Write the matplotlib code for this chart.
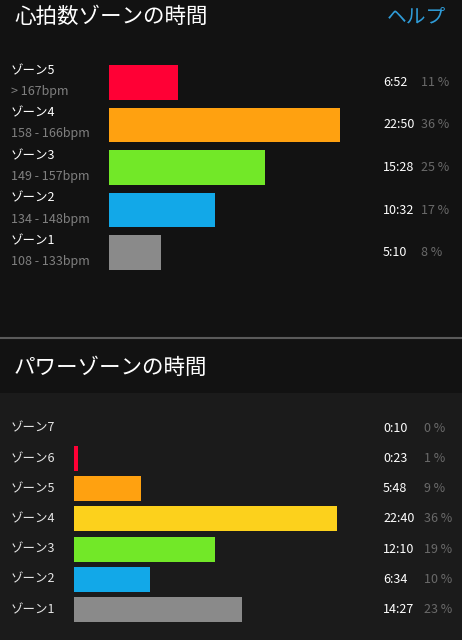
import numpy as np
import matplotlib
matplotlib.use("Agg")
import matplotlib.pyplot as plt

plt.rcParams['font.family'] = ['Noto Sans CJK JP', 'DejaVu Sans']

#------------------data-----------------------------
hr_zones = ['ゾーン1', 'ゾーン2', 'ゾーン3', 'ゾーン4', 'ゾーン5']
hr_ranges = ['108 - 133bpm', '134 - 148bpm', '149 - 157bpm', '158 - 166bpm', '> 167bpm']
hr_times = ['5:10', '10:32', '15:28', '22:50', '6:52']
hr_pct = ['8 %', '17 %', '25 %', '36 %', '11 %']
hr_colors = ['#8a8a8a', '#12a8e8', '#72e828', '#ffa110', '#ff0035']

pw_zones = ['ゾーン1', 'ゾーン2', 'ゾーン3', 'ゾーン4', 'ゾーン5', 'ゾーン6', 'ゾーン7']
pw_times = ['14:27', '6:34', '12:10', '22:40', '5:48', '0:23', '0:10']
pw_pct = ['23 %', '10 %', '19 %', '36 %', '9 %', '1 %', '0 %']
pw_colors = ['#8a8a8a', '#12a8e8', '#72e828', '#fcd11c', '#ffa110', '#ff0035', '#ff0035']


def to_min(t):
    m, s = t.split(':')
    return int(m) + int(s) / 60.0


W, H = 462, 640
fig = plt.figure(figsize=(W / 100, H / 100), dpi=100)
fig.patch.set_facecolor('#121212')


def px_axes(x0, y0, x1, y1, **kw):
    # pixel box (top-left origin) -> figure axes
    return fig.add_axes([x0 / W, 1 - y1 / H, (x1 - x0) / W, (y1 - y0) / H], **kw)


# backgrounds
bg = px_axes(0, 0, W, H)
bg.set_xlim(0, W)
bg.set_ylim(H, 0)
bg.axis('off')
bg.axhspan(393, H, color='#1b1b1b', lw=0)
bg.axhline(338, color='#5a5a5a', lw=1.5)

fig.text(14 / W, 1 - 17 / H, '心拍数ゾーンの時間', color='white', fontsize=15.5, va='center')
fig.text(387 / W, 1 - 17 / H, 'ヘルプ', color='#2f9cd8', fontsize=14.2, va='center')
fig.text(14 / W, 1 - 368 / H, 'パワーゾーンの時間', color='white', fontsize=15.5, va='center')


def label(ax, x_px, left_px, y, dy_px, s, color, size=9):
    ax.annotate(s, xy=((x_px - left_px) / ax_w[ax], y), xycoords=ax.get_yaxis_transform(),
                xytext=(0, -dy_px * 0.72), textcoords='offset points',
                color=color, fontsize=size, va='center', ha='left', annotation_clip=False)


ax_w = {}

#------------------heart rate zones-----------------------------
ax1 = px_axes(109, 61.25, W, 273.75)
ax_w[ax1] = W - 109
ax1.set_xlim(0, (W - 109) / 10.1)
ax1.set_ylim(-0.5, 4.5)
ax1.axis('off')
y1 = np.arange(len(hr_zones))
ax1.barh(y1, [to_min(t) for t in hr_times], height=0.82, color=hr_colors, left=0)
for i in y1:
    label(ax1, 11, 109, i, -12, hr_zones[i], 'white')
    label(ax1, 11, 109, i, 9, hr_ranges[i], '#808080')
    label(ax1, 383, 109, i, 0, hr_times[i], 'white')
    label(ax1, 421, 109, i, 0, hr_pct[i], '#6a6a6a')

#------------------power zones-----------------------------
ax2 = px_axes(74, 413.2, W, 624.6)
ax_w[ax2] = W - 74
ax2.set_xlim(0, (W - 74) / 11.6)
ax2.set_ylim(-0.5, 6.5)
ax2.axis('off')
y2 = np.arange(len(pw_zones))
ax2.barh(y2[:-1], [to_min(t) for t in pw_times[:-1]], height=0.83, color=pw_colors[:-1])
for i in y2:
    label(ax2, 11, 74, i, 0, pw_zones[i], '#e6e6e6')
    label(ax2, 383, 74, i, 0, pw_times[i], 'white')
    label(ax2, 424, 74, i, 0, pw_pct[i], '#6a6a6a')

fig.savefig('out.png', dpi=100, facecolor=fig.get_facecolor())
